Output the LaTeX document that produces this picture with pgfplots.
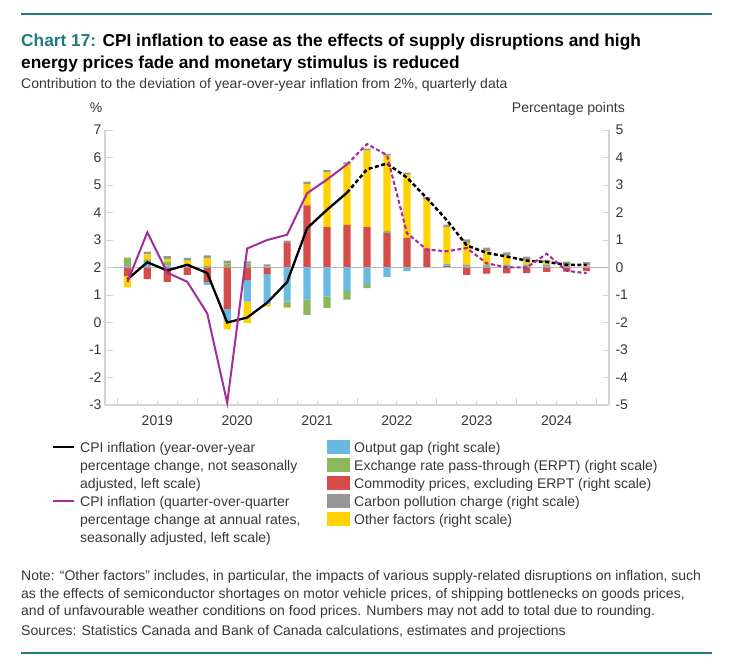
\documentclass[border=0pt]{standalone}
\usepackage{fontspec}
\setmainfont{Liberation Sans}
\usepackage{pgfplots}
\pgfplotsset{compat=1.18}
\usepackage{pgfplotstable}
\definecolor{cblue}{RGB}{104,186,224}
\definecolor{cgreen}{RGB}{141,183,92}
\definecolor{cred}{RGB}{214,76,72}
\definecolor{cgray}{RGB}{150,150,150}
\definecolor{cyellow}{RGB}{255,210,0}
\definecolor{cpurple}{RGB}{166,44,156}
\definecolor{teal}{RGB}{31,122,130}
\definecolor{axgray}{RGB}{212,212,212}
\definecolor{txt}{RGB}{55,55,55}

\pgfplotstableread{
q red blue green yellow gray
0 -0.30 0.06 0.30 -0.42 0.00
1 -0.42 0.20 0.10 0.18 0.10
2 -0.52 0.08 0.13 0.10 0.10
3 -0.27 0.10 0.02 0.13 0.10
4 -0.52 -0.11 0.06 0.28 0.10
5 -1.50 -0.46 0.15 -0.29 0.10
6 -0.46 -0.78 0.14 -0.77 0.08
7 -0.24 -1.10 0.03 -0.08 0.08
8 0.90 -1.24 -0.20 -0.04 0.08
9 2.26 -1.17 -0.55 0.78 0.08
10 1.47 -1.05 -0.42 2.00 0.08
11 1.55 -0.85 -0.32 2.20 0.07
12 1.47 -0.60 -0.15 2.78 0.07
13 1.25 -0.34 0.07 2.75 0.06
14 1.08 -0.13 0.00 2.30 0.07
15 0.70 0.00 0.00 1.78 0.08
16 0.05 0.07 0.00 1.36 0.08
17 -0.27 0.10 0.00 0.80 0.12
18 -0.22 0.10 0.00 0.50 0.12
19 -0.21 0.10 0.00 0.33 0.12
20 -0.20 0.10 0.00 0.18 0.12
21 -0.16 0.10 0.00 0.08 0.10
22 -0.15 0.06 0.00 0.03 0.12
23 -0.13 0.04 0.00 0.03 0.13
}\bars

\pgfplotstableread{
q yy qq
0 1.57 1.47
1 2.19 3.28
2 1.89 1.81
3 2.10 1.48
4 1.80 0.33
5 0.00 -2.92
6 0.18 2.69
7 0.72 3.00
8 1.47 3.19
9 3.43 4.70
10 4.10 5.20
11 4.72 5.75
12 5.57 6.49
13 5.78 6.09
14 5.27 3.25
15 4.52 2.65
16 3.72 2.59
17 2.80 2.71
18 2.53 2.15
19 2.40 2.01
20 2.25 2.00
21 2.20 2.50
22 2.10 1.88
23 2.10 1.79
}\lines

\pgfplotsset{
  base/.style={
    scale only axis, width=504pt, height=275pt,
    at={(105pt,-405pt)}, anchor=south west,
    xmin=-1.12, xmax=24.12,
    tick align=inside,
    major tick length=6.5pt, minor tick length=4.5pt,
    tick style={axgray, line width=0.9pt},
    axis line style={axgray, line width=1.3pt},
    ticklabel style={font=\fontsize{14}{16}\selectfont, text=txt},
    /pgf/number format/assume math mode=true,
    clip=false,
  },
  barax/.style={base, ymin=-5, ymax=5, ybar stacked, bar width=0.36,
    axis x line=none, axis y line*=right, ytick={-5,...,5},
    yticklabel style={xshift=3pt}},
}

\begin{document}
\begin{tikzpicture}[x=1pt,y=1pt]
\path (0,0) rectangle (731,-665);
\draw[teal, line width=1.6pt] (21,-14) -- (712,-14);
\draw[teal, line width=1.6pt] (21,-653) -- (712,-653);

\node[anchor=base west, inner sep=0, font=\fontsize{17.3}{20}\selectfont\bfseries] at (21,-46)
  {\textcolor{teal}{Chart 17:} CPI inflation to ease as the effects of supply disruptions and high};
\node[anchor=base west, inner sep=0, font=\fontsize{17.3}{20}\selectfont\bfseries] at (21,-68)
  {energy prices fade and monetary stimulus is reduced};
\node[anchor=base west, inner sep=0, text=txt, font=\fontsize{14}{16}\selectfont] at (21,-88)
  {Contribution to the deviation of year-over-year inflation from 2\%, quarterly data};
\node[anchor=base, inner sep=0, text=txt, font=\fontsize{14}{16}\selectfont] at (96,-112) {\%};
\node[anchor=base east, inner sep=0, text=txt, font=\fontsize{14}{16}\selectfont] at (625,-112) {Percentage points};

% positive contributions
\begin{axis}[barax]
  \draw[gray!55, line width=0.9pt] (axis cs:-1.12,0) -- (axis cs:24.12,0);
  \addplot[fill=cred, draw=none] table[x=q, y expr={max(\thisrow{red},0)}] {\bars};
  \addplot[fill=cblue, draw=none] table[x=q, y expr={max(\thisrow{blue},0)}] {\bars};
  \addplot[fill=cgreen, draw=none] table[x=q, y expr={max(\thisrow{green},0)}] {\bars};
  \addplot[fill=cyellow, draw=none] table[x=q, y expr={max(\thisrow{yellow},0)}] {\bars};
  \addplot[fill=cgray, draw=none] table[x=q, y expr={max(\thisrow{gray},0)}] {\bars};
\end{axis}
% negative contributions
\begin{axis}[barax, axis y line=none]
  \addplot[fill=cred, draw=none] table[x=q, y expr={min(\thisrow{red},0)}] {\bars};
  \addplot[fill=cblue, draw=none] table[x=q, y expr={min(\thisrow{blue},0)}] {\bars};
  \addplot[fill=cgreen, draw=none] table[x=q, y expr={min(\thisrow{green},0)}] {\bars};
  \addplot[fill=cyellow, draw=none] table[x=q, y expr={min(\thisrow{yellow},0)}] {\bars};
\end{axis}
% lines, left scale
\begin{axis}[base, ymin=-3, ymax=7,
    axis x line*=bottom, axis y line*=left,
    ytick={-3,...,7},
    xtick={-0.5,3.5,...,23.5},
    minor xtick={0.5,1.5,2.5,4.5,5.5,6.5,8.5,9.5,10.5,12.5,13.5,14.5,16.5,17.5,18.5,20.5,21.5,22.5},
    x tick label as interval,
    xticklabels={2019,2020,2021,2022,2023,2024},
    xticklabel style={yshift=-7pt},
    major tick length=7.5pt,
  ]
  \addplot[black, line width=2.3pt, restrict x to domain=0:11] table[x=q, y=yy] {\lines};
  \addplot[black, line width=2.5pt, dash pattern=on 4pt off 2.5pt, restrict x to domain=11:23] table[x=q, y=yy] {\lines};
  \addplot[cpurple, line width=2pt, restrict x to domain=0:11] table[x=q, y=qq] {\lines};
  \addplot[cpurple, line width=2.1pt, dash pattern=on 4pt off 2.5pt, restrict x to domain=11:23] table[x=q, y=qq] {\lines};
\end{axis}

% legend
\begin{scope}[every node/.style={anchor=base west, inner sep=0, text=txt, font=\fontsize{14}{16}\selectfont}]
  \draw[black, line width=2pt] (53,-447) -- (74,-447);
  \node at (80,-452) {CPI inflation (year-over-year};
  \node at (80,-470) {percentage change, not seasonally};
  \node at (80,-488) {adjusted, left scale)};
  \draw[cpurple, line width=2pt] (53,-501) -- (74,-501);
  \node at (80,-506) {CPI inflation (quarter-over-quarter};
  \node at (80,-524) {percentage change at annual rates,};
  \node at (80,-542) {seasonally adjusted, left scale)};
  \fill[cblue] (327,-440) rectangle (350,-454);
  \node at (354,-452) {Output gap (right scale)};
  \fill[cgreen] (327,-458) rectangle (350,-472);
  \node at (354,-470) {Exchange rate pass-through (ERPT) (right scale)};
  \fill[cred] (327,-476) rectangle (350,-490);
  \node at (354,-488) {Commodity prices, excluding ERPT (right scale)};
  \fill[cgray] (327,-494) rectangle (350,-508);
  \node at (354,-506) {Carbon pollution charge (right scale)};
  \fill[cyellow] (327,-512) rectangle (350,-526);
  \node at (354,-524) {Other factors (right scale)};

  \node at (21,-580.5) {Note: “Other factors” includes, in particular, the impacts of various supply-related disruptions on inflation, such};
  \node at (21,-598) {as the effects of semiconductor shortages on motor vehicle prices, of shipping bottlenecks on goods prices,};
  \node at (21,-615.5) {and of unfavourable weather conditions on food prices. Numbers may not add to total due to rounding.};
  \node at (21,-635.5) {Sources: Statistics Canada and Bank of Canada calculations, estimates and projections};
\end{scope}
\end{tikzpicture}
\end{document}
